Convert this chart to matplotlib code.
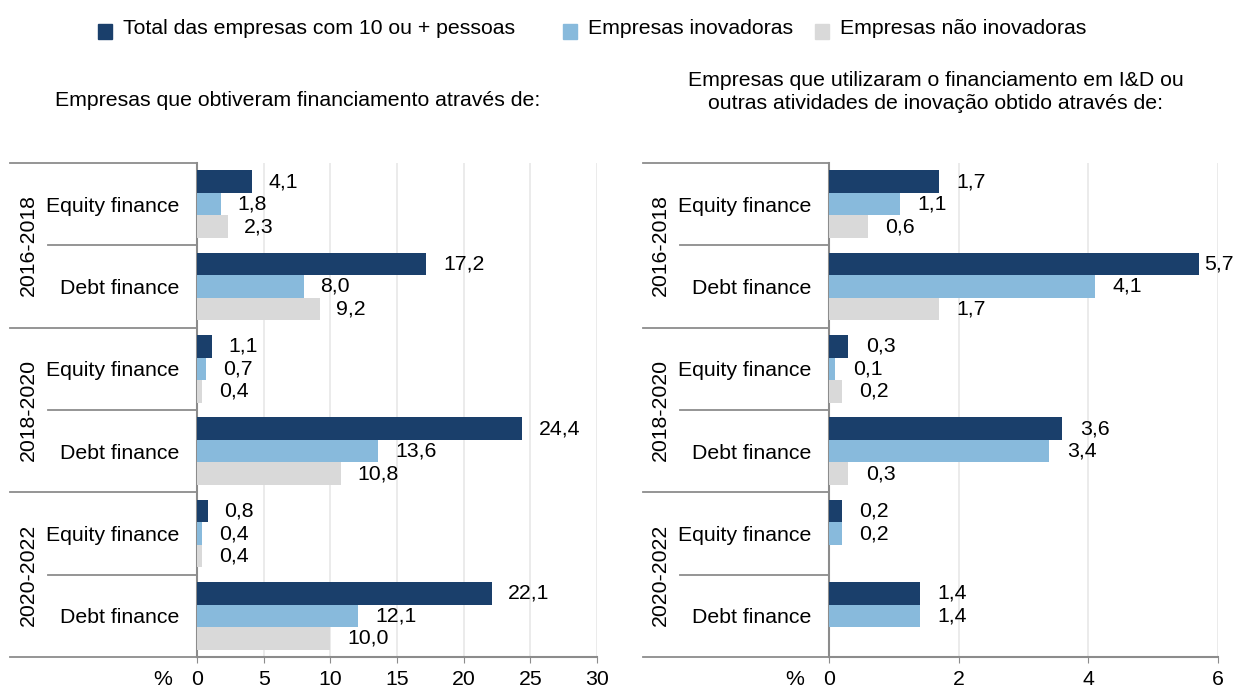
import matplotlib.pyplot as plt
import numpy as np
from matplotlib.patches import Rectangle

plt.rcParams['font.family'] = ['Liberation Sans', 'DejaVu Sans']

periods = ['2016-2018', '2018-2020', '2020-2022']
categories = ['Equity finance', 'Debt finance'] * 3
series_names = ['Total das empresas com 10 ou + pessoas', 'Empresas inovadoras', 'Empresas não inovadoras']
colors = ['#1A3F6B', '#88BADC', '#D9D9D9']

# left panel: empresas que obtiveram financiamento
left_total = [4.1, 17.2, 1.1, 24.4, 0.8, 22.1]
left_inov = [1.8, 8.0, 0.7, 13.6, 0.4, 12.1]
left_non = [2.3, 9.2, 0.4, 10.8, 0.4, 10.0]

# right panel: usaram o financiamento em I&D / inovacao
right_total = [1.7, 5.7, 0.3, 3.6, 0.2, 1.4]
right_inov = [1.1, 4.1, 0.1, 3.4, 0.2, 1.4]
right_non = [0.6, 1.7, 0.2, 0.3, np.nan, np.nan]

left_title = 'Empresas que obtiveram financiamento através de:'
right_title = 'Empresas que utilizaram o financiamento em I&D ou\noutras atividades de inovação obtido através de:'

FS = 15.3
GREY = '#8C8C8C'

fig = plt.figure(figsize=(12.4, 6.91), dpi=100)
ax1 = fig.add_axes([197 / 1240, 34 / 691, 400 / 1240, 494 / 691])
ax2 = fig.add_axes([829 / 1240, 34 / 691, 389 / 1240, 494 / 691])


def draw_panel(ax, series, xmax, xstep, lab_off, x_cat, x_grp):
    y = np.arange(len(categories))
    h = 0.275
    for k, vals in enumerate(series):
        vals = np.array(vals, dtype=float)
        yy = y + (k - 1) * h
        ax.barh(yy, vals, height=h, color=colors[k], zorder=3)
        for yi, v in zip(yy, vals):
            if np.isnan(v):
                continue
            off = lab_off if v + lab_off < xmax * 0.99 else lab_off / 3
            ax.text(v + off, yi, f'{v:.1f}'.replace('.', ','), va='center',
                    ha='left', fontsize=FS, zorder=4)
    ax.set_ylim(len(categories) - 0.5, -0.5)
    ax.set_xlim(0, xmax)
    ax.set_xticks(np.arange(0, xmax + xstep / 2, xstep))
    ax.tick_params(axis='x', labelsize=FS, length=4, color=GREY, pad=5.5)
    ax.set_yticks(y)
    ax.set_yticklabels(categories, fontsize=FS)
    ax.tick_params(axis='y', length=0, pad=13)
    ax.grid(axis='x', color='#E8E8E8', linewidth=1.2, zorder=0)
    for s in ['top', 'right']:
        ax.spines[s].set_visible(False)
    for s in ['left', 'bottom']:
        ax.spines[s].set_color(GREY)
        ax.spines[s].set_linewidth(1.5)

    # separators in the label area
    tr = ax.get_yaxis_transform()
    for b in np.arange(-0.5, len(categories), 1.0):
        x0 = x_grp if (b + 0.5) % 2 == 0 else x_cat
        ax.plot([x0, 0], [b, b], transform=tr, color=GREY, lw=1.3,
                clip_on=False, zorder=5)
    for i, p in enumerate(periods):
        ax.text(x_grp + 0.045, 2 * i + 0.5, p, rotation=90, ha='center',
                va='center', fontsize=FS, transform=tr)
    ax.annotate('%', xy=(0, 0), xycoords='axes fraction', xytext=(-34, -13),
                textcoords='offset pixels', ha='center', va='top',
                fontsize=FS)


draw_panel(ax1, [left_total, left_inov, left_non], 30, 5, 1.25,
           -0.3725, -0.4675)
draw_panel(ax2, [right_total, right_inov, right_non], 6, 2, 0.27,
           -0.383, -0.478)

fig.text(298 / 1240, 1 - 101 / 691, left_title, ha='center', va='center',
         fontsize=FS)
fig.text(936 / 1240, 1 - 92 / 691, right_title, ha='center', va='center',
         fontsize=FS, linespacing=1.25)

# legend drawn by hand (entries are unevenly spaced in the original)
leg_x = [98, 563, 815]
for name, c, lx in zip(series_names, colors, leg_x):
    fig.patches.append(Rectangle((lx / 1240, 1 - 39 / 691), 14 / 1240,
                                 15 / 691, transform=fig.transFigure,
                                 color=c))
    fig.text((lx + 25) / 1240, 1 - 28 / 691, name, ha='left', va='center',
             fontsize=FS)

fig.savefig('out.png', dpi=100)
